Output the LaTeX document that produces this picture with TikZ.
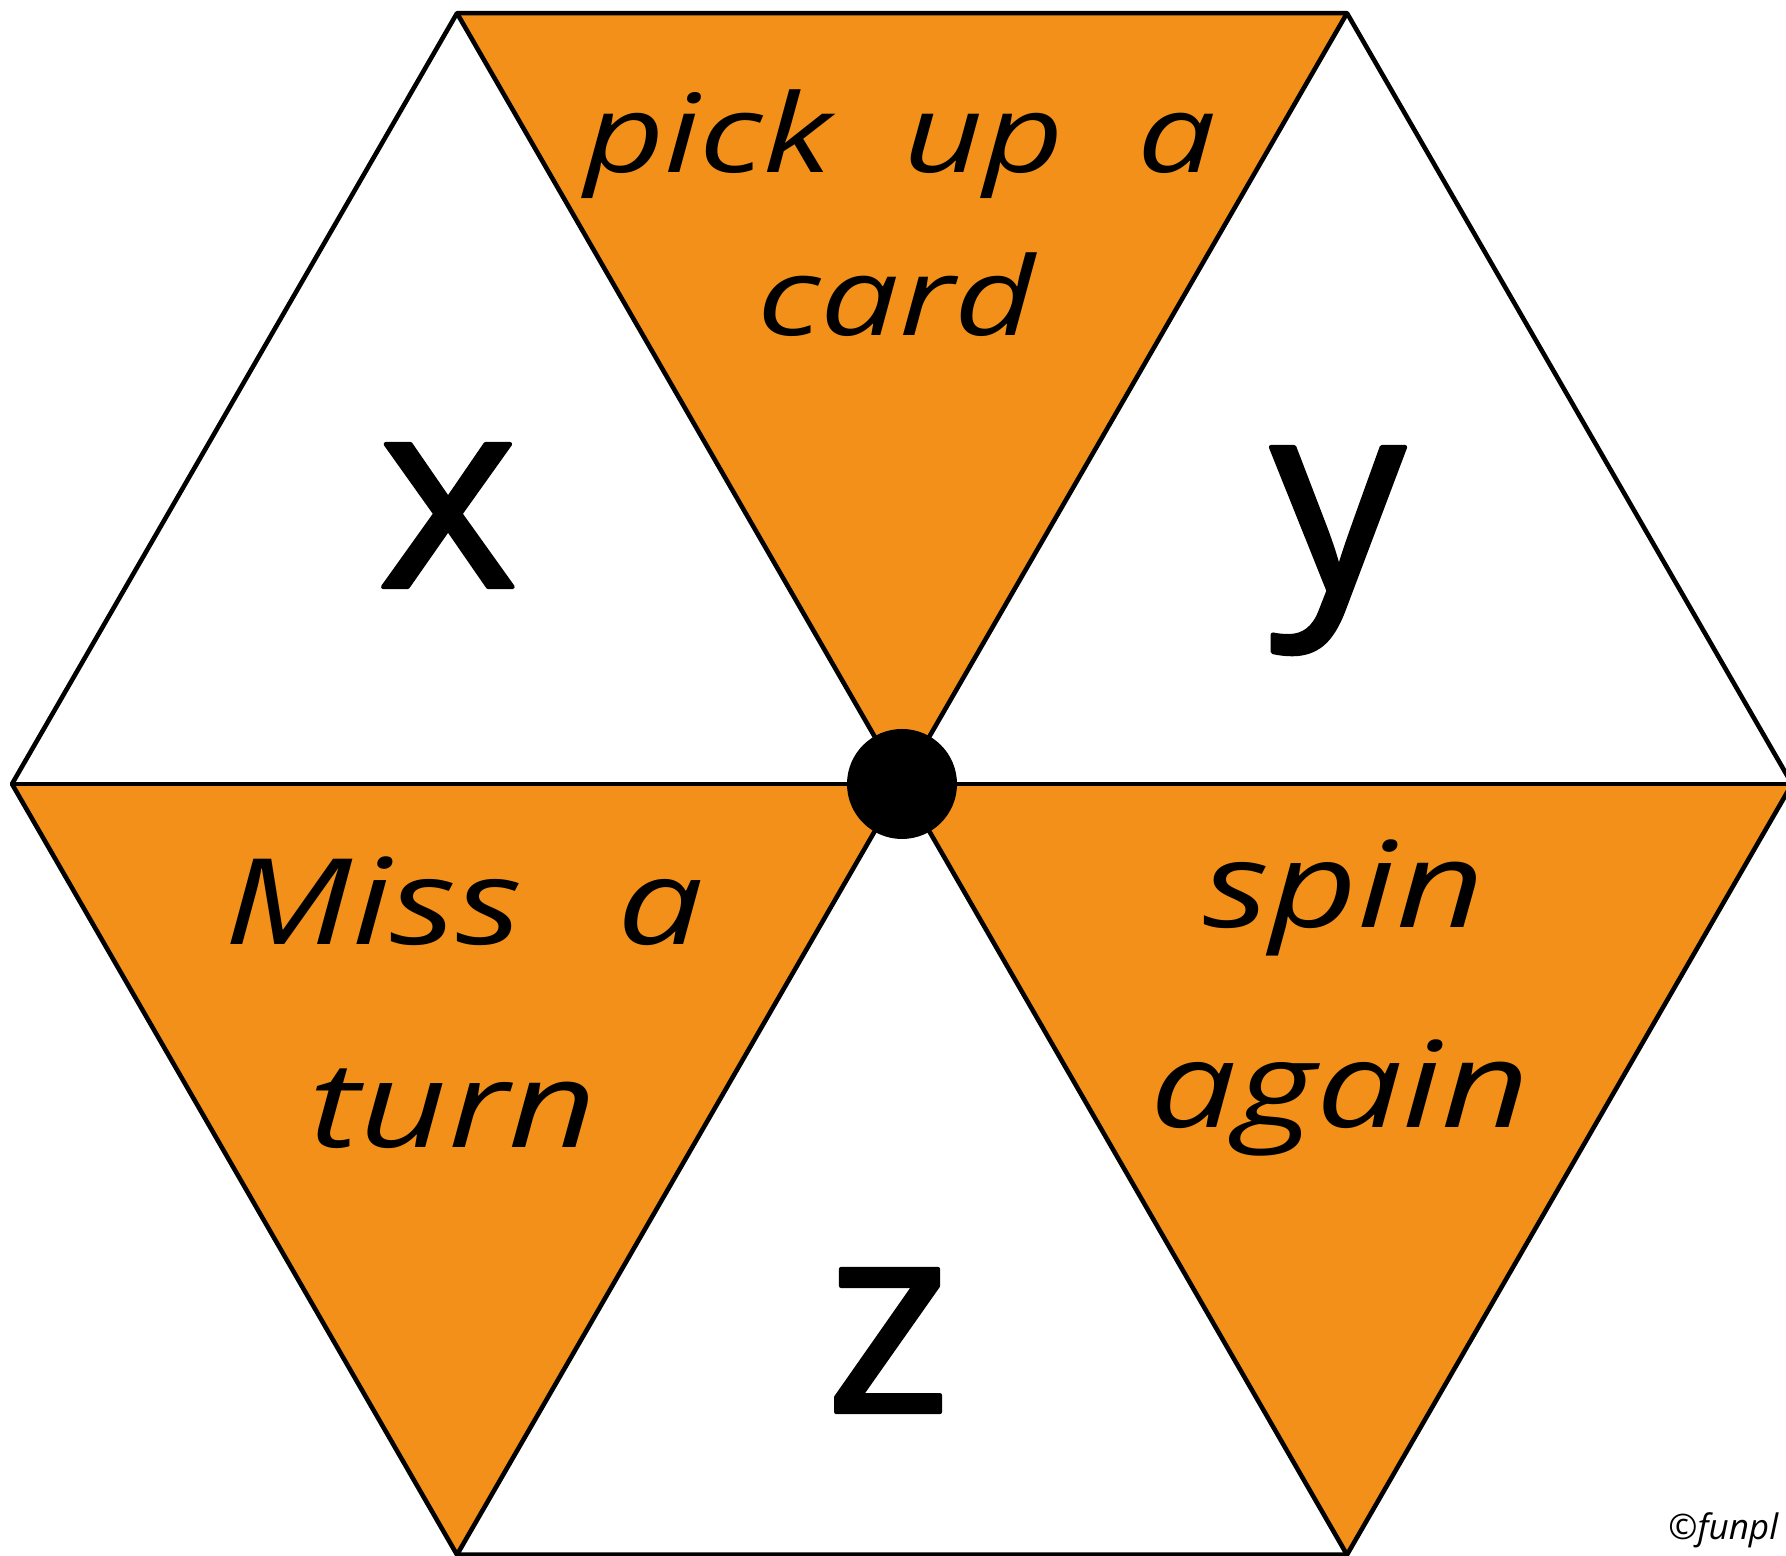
\documentclass[tikz,border=0pt]{standalone}
\usepackage{fontspec}
\usepackage{xcolor}
\usetikzlibrary{calc}
\newfontfamily\handfont[FakeStretch=1.28]{Open Sans}
\newfontfamily\letterfont[FakeBold=1.6]{Open Sans}
\newfontfamily\notefont{Open Sans}
\definecolor{spinorange}{HTML}{F2901A}

\begin{document}
\begin{tikzpicture}[
  line width=1.3pt,
  line join=round,
  slice/.style={fill=spinorange},
  edge/.style={draw=black},
  phrase/.style={anchor=base, inner sep=0pt, font=\handfont\itshape\fontsize{34}{40}\selectfont},
  topphrase/.style={phrase, font=\handfont\itshape\fontsize{31}{36}\selectfont},
  letter/.style={anchor=base, inner sep=0pt, font=\letterfont\fontsize{76}{80}\selectfont}
]
  \useasboundingbox (0,0) rectangle (17.86,15.56);

  % hexagon corners round the middle
  \coordinate (c) at (9.02,7.72);
  \foreach \i in {0,...,5}
    \coordinate (v\i) at ($(c)+({60*\i}:8.9)$);

  \fill[slice] (c) -- (v1) -- (v2) -- cycle;
  \fill[slice] (c) -- (v3) -- (v4) -- cycle;
  \fill[slice] (c) -- (v5) -- (v0) -- cycle;

  \draw[edge] (v0) -- (v1) -- (v2) -- (v3) -- (v4) -- (v5) -- cycle;
  \foreach \i in {0,...,5}
    \draw[edge] (c) -- (v\i);

  \node[circle, fill=black, minimum size=1.1cm, inner sep=0pt] (hub) at (c) {};

  \node[topphrase] (pick) at (9.00,13.83) {pick\ \ up\ \ a};
  \node[topphrase] (card) at (8.96,12.20) {card};
  \node[phrase] (miss) at (4.64,6.11) {Miss\hspace{0.95cm}a};
  \node[phrase] (turn) at (4.53,4.08) {turn};
  \node[phrase] (spin) at (13.44,6.28) {spin};
  \node[phrase] (again) at (13.40,4.28) {again};

  \node[letter] (lx) at (4.48,9.69) {x};
  \node[letter] (ly) at (13.38,9.66) {y};
  \node[letter] (lz) at (8.88,1.44) {z};

  \node[anchor=base west, inner sep=0pt, font=\notefont\itshape\fontsize{10}{12}\selectfont] (copy) at (16.66,0.16) {©funpl};
\end{tikzpicture}
\end{document}
